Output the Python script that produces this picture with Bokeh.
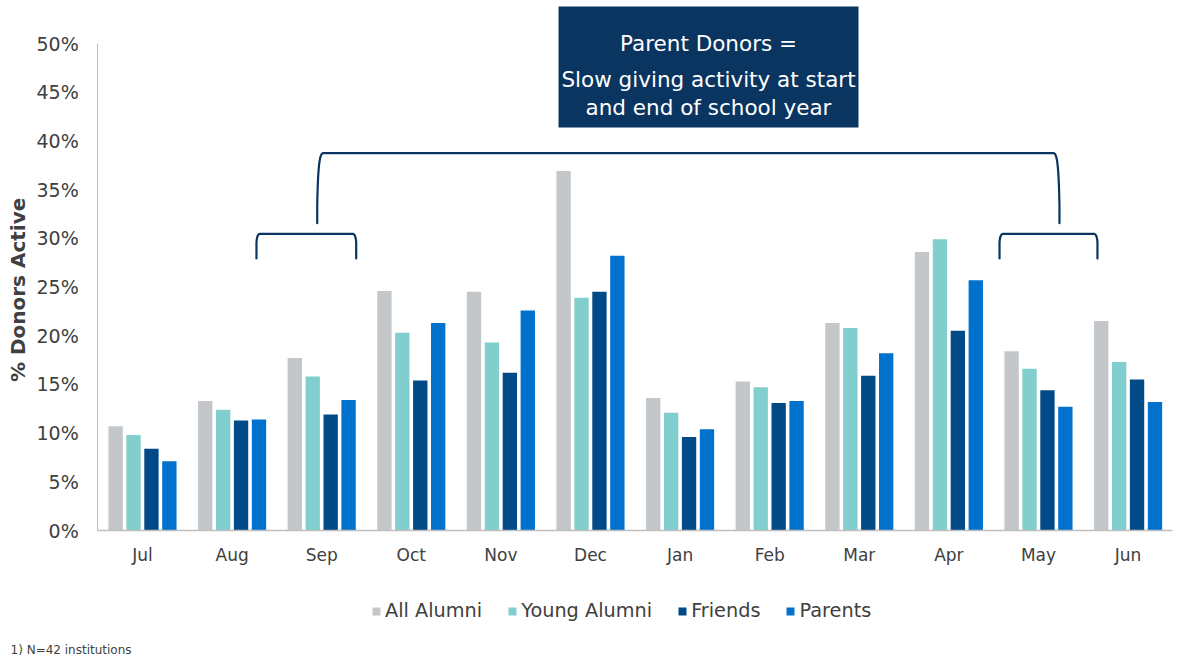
import numpy as np
from bokeh.plotting import figure
from bokeh.models import (Range1d, FixedTicker, PrintfTickFormatter, Legend, LegendItem,
                          Label, BoxAnnotation, ColumnDataSource)
from bokeh.embed import file_html
from bokeh.resources import INLINE

# ---------------- data ----------------
months = ["Jul", "Aug", "Sep", "Oct", "Nov", "Dec", "Jan", "Feb", "Mar", "Apr", "May", "Jun"]
series_names = ["All Alumni", "Young Alumni", "Friends", "Parents"]
all_alumni   = [10.7, 13.3, 17.7, 24.6, 24.5, 36.9, 13.6, 15.3, 21.3, 28.6, 18.4, 21.5]
young_alumni = [9.8, 12.4, 15.8, 20.3, 19.3, 23.9, 12.1, 14.7, 20.8, 29.9, 16.6, 17.3]
friends      = [8.4, 11.3, 11.9, 15.4, 16.2, 24.5, 9.6, 13.1, 15.9, 20.5, 14.4, 15.5]
parents      = [7.1, 11.4, 13.4, 21.3, 22.6, 28.2, 10.4, 13.3, 18.2, 25.7, 12.7, 13.2]
y_ticks = [0, 5, 10, 15, 20, 25, 30, 35, 40, 45, 50]
y_title = "% Donors Active"
callout_lines = ["Parent Donors =", "Slow giving activity at start", "and end of school year"]
footnote = "1)  N=42 institutions"

# ---------------- styling / layout ----------------
colors = ["#C4C7CA", "#80CFCE", "#004A87", "#0071CD"]
offsets = [-0.3, -0.1, 0.1, 0.3]
navy = "#0B3561"
text_col = "#404040"
FONT = "DejaVu Sans"
W, H = 1185, 660
# plot calibration: category width 89.6px, axis origin at (97.2, 530), 9.74px per percent
CW, X0, Y0, PPU = 89.6, 97.2, 530.0, 9.74

n = len(months)
centers = np.arange(n) + 0.5
src = ColumnDataSource(dict(c=centers, a=all_alumni, y=young_alumni, f=friends, p=parents))
keys = ["a", "y", "f", "p"]

p = figure(x_range=Range1d(-X0 / CW, (W - X0) / CW),
           y_range=Range1d(-(H - Y0) / PPU, Y0 / PPU),
           width=W, height=H, output_backend="svg", toolbar_location=None,
           min_border_left=0, min_border_right=0, min_border_top=0, min_border_bottom=0)
p.outline_line_color = None
p.xgrid.visible = False
p.ygrid.visible = False

renderers = []
for k, c, off in zip(keys, colors, offsets):
    src.data["x_" + k] = centers + off
    r = p.vbar(x="x_" + k, top=k, width=0.16, source=src, fill_color=c, line_color=None)
    renderers.append(r)

# axes (fixed at the data origin)
xa = p.xaxis[0]
xa.fixed_location = 0
xa.bounds = (0, n)
xa.ticker = FixedTicker(ticks=list(centers))
xa.major_label_overrides = {float(c): m for c, m in zip(centers, months)}
xa.axis_line_color = "#BFBFBF"
xa.axis_line_width = 1.5
xa.major_tick_line_color = None
xa.minor_tick_line_color = None
xa.major_tick_out = 0
xa.major_tick_in = 0
xa.major_label_standoff = 14
xa.major_label_text_font = FONT
xa.major_label_text_font_size = "17px"
xa.major_label_text_color = text_col

ya = p.yaxis[0]
ya.fixed_location = 0
ya.ticker = FixedTicker(ticks=y_ticks)
ya.formatter = PrintfTickFormatter(format="%d%%")
ya.bounds = (0, 50)
ya.axis_line_color = "#BFBFBF"
ya.axis_line_width = 1
ya.major_tick_line_color = None
ya.minor_tick_line_color = None
ya.major_tick_out = 0
ya.major_tick_in = 0
ya.major_label_standoff = 19
ya.major_label_text_font = FONT
ya.major_label_text_font_size = "19px"
ya.major_label_text_color = text_col

# y title
p.add_layout(Label(x=-0.884, y=24.7, text=y_title, angle=np.pi / 2, text_align="center",
                   text_baseline="middle", text_font=FONT, text_font_size="20px",
                   text_font_style="bold", text_color=text_col))

# callout box
box_left, box_right, box_bottom, box_top = 5.143, 8.491, 41.38, 53.8
p.add_layout(BoxAnnotation(left=box_left, right=box_right, bottom=box_bottom, top=box_top,
                           fill_color=navy, fill_alpha=1.0, line_color=None))
callout_y = [49.97, 46.31, 43.45]
for txt, yy in zip(callout_lines, callout_y):
    p.add_layout(Label(x=(box_left + box_right) / 2, y=yy, text=txt, text_align="center",
                       text_baseline="alphabetic", text_font=FONT, text_font_size="21.5px",
                       text_color="white"))

# brackets: (x_left, x_right, y_top, y_bottom, corner dx, bend fraction)
brackets = [
    (2.45, 10.734, 38.74, 31.55, 0.066, 0.75),
    (1.772, 2.885, 30.46, 27.93, 0.045, 0.35),
    (10.065, 11.158, 30.46, 27.93, 0.045, 0.35),
]


def leg(xl, yt, yb, dx, bend):
    h = yt - yb
    y0 = yt - bend * h
    t = np.linspace(0, 1, 20)
    P0 = np.array([xl, y0]); P1 = np.array([xl + 0.12 * dx, yt - 0.3 * bend * h])
    P2 = np.array([xl + 0.35 * dx, yt]); P3 = np.array([xl + dx, yt])
    pts = ((1 - t) ** 3)[:, None] * P0 + (3 * (1 - t) ** 2 * t)[:, None] * P1 + \
          (3 * (1 - t) * t ** 2)[:, None] * P2 + (t ** 3)[:, None] * P3
    return np.concatenate([[xl], pts[:, 0]]), np.concatenate([[yb], pts[:, 1]])


for xl, xr, yt, yb, dx, bend in brackets:
    lx, ly = leg(xl, yt, yb, dx, bend)
    rx = xr - (lx - xl)
    p.line(np.concatenate([lx, rx[::-1]]), np.concatenate([ly, ly[::-1]]),
           line_color=navy, line_width=2.2, line_join="round", line_cap="round")

# legend (screen offsets from the frame's bottom-left)
legend = Legend(items=[LegendItem(label=s, renderers=[r]) for s, r in zip(series_names, renderers)],
                orientation="horizontal", location=(371, H - 622), padding=0, margin=0,
                spacing=25, glyph_width=10, glyph_height=10, label_standoff=4,
                label_text_font=FONT, label_text_font_size="19.3px", label_text_color=text_col,
                border_line_color=None, background_fill_alpha=0)
p.add_layout(legend)

# footnote
p.add_layout(Label(x=-0.973, y=-12.32, text=footnote, text_align="left", text_baseline="middle",
                   text_font=FONT, text_font_size="12px", text_color="#404040"))

open("out.html", "w").write(file_html(p, INLINE))
